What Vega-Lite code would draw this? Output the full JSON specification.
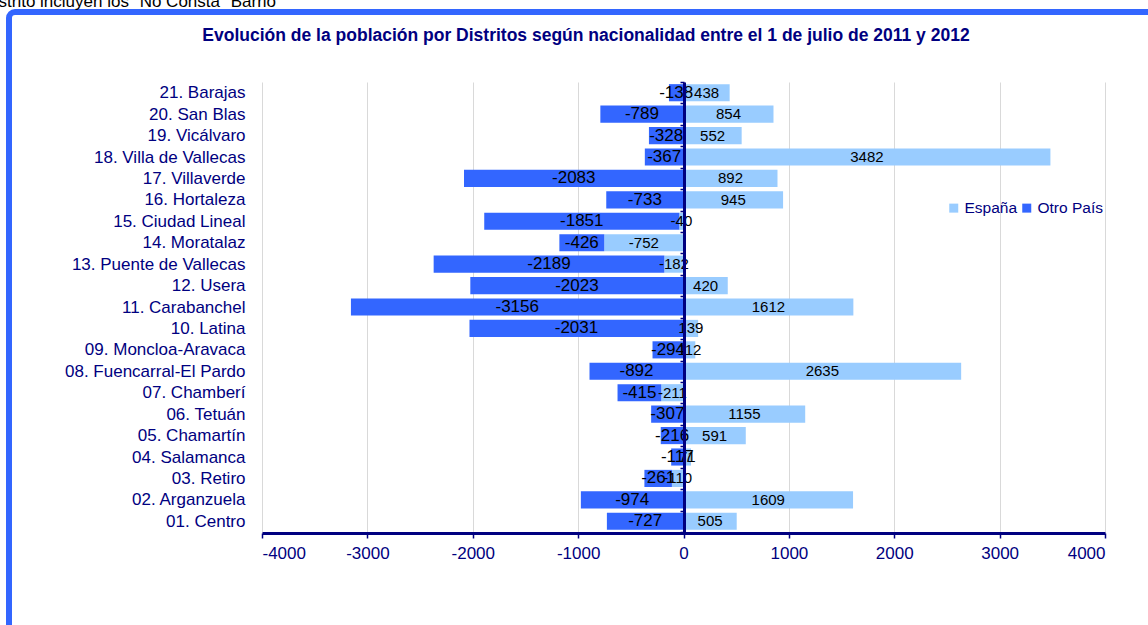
{
  "$schema": "https://vega.github.io/schema/vega-lite/v6.json",
  "width": 1160,
  "height": 640,
  "autosize": {"type": "none"},
  "padding": {"left": 9, "top": 12, "right": 0, "bottom": 0},
  "background": "white",
  "config": {
    "view": {"stroke": "#3366FF", "strokeWidth": 6, "cornerRadius": 6},
    "font": "Liberation Sans"
  },
  "title": {
    "text": "Evolución de la población por Distritos según nacionalidad entre el 1 de julio de 2011 y 2012",
    "fontSize": 17.5,
    "fontWeight": "bold",
    "color": "#000080",
    "anchor": "middle",
    "frame": "group",
    "offset": 0,
    "dy": 52,
    "dx": -3
  },
  "datasets": {
    "pob": [
      {"d": "21. Barajas", "t": "España", "o": 1, "v": 438},
      {"d": "21. Barajas", "t": "Otro País", "o": 2, "v": -138},
      {"d": "20. San Blas", "t": "España", "o": 1, "v": 854},
      {"d": "20. San Blas", "t": "Otro País", "o": 2, "v": -789},
      {"d": "19. Vicálvaro", "t": "España", "o": 1, "v": 552},
      {"d": "19. Vicálvaro", "t": "Otro País", "o": 2, "v": -328},
      {"d": "18. Villa de Vallecas", "t": "España", "o": 1, "v": 3482},
      {"d": "18. Villa de Vallecas", "t": "Otro País", "o": 2, "v": -367},
      {"d": "17. Villaverde", "t": "España", "o": 1, "v": 892},
      {"d": "17. Villaverde", "t": "Otro País", "o": 2, "v": -2083},
      {"d": "16. Hortaleza", "t": "España", "o": 1, "v": 945},
      {"d": "16. Hortaleza", "t": "Otro País", "o": 2, "v": -733},
      {"d": "15. Ciudad Lineal", "t": "España", "o": 1, "v": -40},
      {"d": "15. Ciudad Lineal", "t": "Otro País", "o": 2, "v": -1851},
      {"d": "14. Moratalaz", "t": "España", "o": 1, "v": -752},
      {"d": "14. Moratalaz", "t": "Otro País", "o": 2, "v": -426},
      {"d": "13.  Puente de Vallecas", "t": "España", "o": 1, "v": -182},
      {"d": "13.  Puente de Vallecas", "t": "Otro País", "o": 2, "v": -2189},
      {"d": "12. Usera", "t": "España", "o": 1, "v": 420},
      {"d": "12. Usera", "t": "Otro País", "o": 2, "v": -2023},
      {"d": "11. Carabanchel", "t": "España", "o": 1, "v": 1612},
      {"d": "11. Carabanchel", "t": "Otro País", "o": 2, "v": -3156},
      {"d": "10. Latina", "t": "España", "o": 1, "v": 139},
      {"d": "10. Latina", "t": "Otro País", "o": 2, "v": -2031},
      {"d": "09. Moncloa-Aravaca", "t": "España", "o": 1, "v": 112},
      {"d": "09. Moncloa-Aravaca", "t": "Otro País", "o": 2, "v": -294},
      {"d": "08. Fuencarral-El Pardo", "t": "España", "o": 1, "v": 2635},
      {"d": "08. Fuencarral-El Pardo", "t": "Otro País", "o": 2, "v": -892},
      {"d": "07. Chamberí", "t": "España", "o": 1, "v": -211},
      {"d": "07. Chamberí", "t": "Otro País", "o": 2, "v": -415},
      {"d": "06. Tetuán", "t": "España", "o": 1, "v": 1155},
      {"d": "06. Tetuán", "t": "Otro País", "o": 2, "v": -307},
      {"d": "05. Chamartín", "t": "España", "o": 1, "v": 591},
      {"d": "05. Chamartín", "t": "Otro País", "o": 2, "v": -216},
      {"d": "04. Salamanca", "t": "España", "o": 1, "v": 71},
      {"d": "04. Salamanca", "t": "Otro País", "o": 2, "v": -117},
      {"d": "03. Retiro", "t": "España", "o": 1, "v": -110},
      {"d": "03. Retiro", "t": "Otro País", "o": 2, "v": -261},
      {"d": "02. Arganzuela", "t": "España", "o": 1, "v": 1609},
      {"d": "02. Arganzuela", "t": "Otro País", "o": 2, "v": -974},
      {"d": "01. Centro", "t": "España", "o": 1, "v": 505},
      {"d": "01. Centro", "t": "Otro País", "o": 2, "v": -727}
    ]
  },
  "data": {"name": "pob"},
  "transform": [
    {"stack": "v", "groupby": ["d"], "sort": [{"field": "o", "order": "ascending"}], "as": ["x0", "x1"]}
  ],
  "layer": [
    {
      "mark": {"type": "bar", "height": {"band": 0.8}},
      "encoding": {
        "x": {
          "field": "x0",
          "type": "quantitative",
          "title": null,
          "scale": {"domain": [-4000, 4000], "range": [253, 1096], "nice": false, "zero": false},
          "axis": {
            "orient": "top",
            "values": [-4000, -3000, -2000, -1000, 0, 1000, 2000, 3000, 4000],
            "labelExpr": "'' + datum.value",
            "offset": -521,
            "domainColor": "#000080",
            "domainWidth": 3,
            "tickColor": "#000080",
            "tickSize": -5,
            "tickWidth": 1.5,
            "labelColor": "#000080",
            "labelFontSize": 17,
            "labelPadding": -15,
            "labelBaseline": "middle",
            "labelFont": "Liberation Sans",
            "grid": true,
            "gridColor": "#d9d9d9",
            "gridWidth": 1,
            "zindex": 0
          }
        },
        "x2": {"field": "x1"},
        "y": {
          "field": "d",
          "type": "nominal",
          "title": "strito incluyen los \"No Consta\" Barrio",
          "sort": null,
          "scale": {
            "domain": ["21. Barajas", "20. San Blas", "19. Vicálvaro", "18. Villa de Vallecas", "17. Villaverde", "16. Hortaleza", "15. Ciudad Lineal", "14. Moratalaz", "13.  Puente de Vallecas", "12. Usera", "11. Carabanchel", "10. Latina", "09. Moncloa-Aravaca", "08. Fuencarral-El Pardo", "07. Chamberí", "06. Tetuán", "05. Chamartín", "04. Salamanca", "03. Retiro", "02. Arganzuela", "01. Centro"],
            "range": [70, 520],
            "paddingInner": 0,
            "paddingOuter": 0
          },
          "axis": {
            "orient": "left",
            "offset": -675,
            "domainColor": "#000080",
            "domainWidth": 3,
            "tickBand": "extent",
            "tickColor": "#000080",
            "tickSize": 4,
            "tickWidth": 1.5,
            "labelColor": "#000080",
            "labelFontSize": 17,
            "labelPadding": 435,
            "labelLimit": 400,
            "labelFont": "Liberation Sans",
            "grid": false,
            "zindex": 1,
            "titleAngle": 0,
            "titleAlign": "left",
            "titleBaseline": "alphabetic",
            "titleX": -686,
            "titleY": -6,
            "titleFontSize": 17,
            "titleFontWeight": "normal",
            "titleColor": "#000000",
            "titleFont": "Liberation Sans"
          }
        },
        "color": {
          "field": "t",
          "type": "nominal",
          "scale": {"domain": ["España", "Otro País"], "range": ["#99CCFF", "#3366FF"]},
          "legend": {
            "title": null,
            "orient": "none",
            "legendX": 937,
            "legendY": 188,
            "direction": "horizontal",
            "symbolType": "square",
            "symbolSize": 81,
            "symbolStrokeWidth": 0,
            "labelFontSize": 15.5,
            "labelColor": "#000080",
            "labelFont": "Liberation Sans",
            "labelOffset": 3,
            "columnPadding": 1,
            "padding": 0
          }
        }
      }
    },
    {
      "transform": [
        {"filter": "datum.t === 'España'"},
        {"fold": ["x0", "x1"], "as": ["k", "pos"]}
      ],
      "mark": {"type": "text", "fontSize": 15, "color": "#000000", "font": "Liberation Sans"},
      "encoding": {
        "x": {"field": "pos", "aggregate": "mean", "type": "quantitative"},
        "y": {"field": "d", "type": "nominal"},
        "text": {"field": "v", "type": "nominal"}
      }
    },
    {
      "transform": [
        {"filter": "datum.t === 'Otro País'"},
        {"fold": ["x0", "x1"], "as": ["k", "pos"]}
      ],
      "mark": {"type": "text", "fontSize": 17, "color": "#000000", "font": "Liberation Sans"},
      "encoding": {
        "x": {"field": "pos", "aggregate": "mean", "type": "quantitative"},
        "y": {"field": "d", "type": "nominal"},
        "text": {"field": "v", "type": "nominal"}
      }
    }
  ]
}
